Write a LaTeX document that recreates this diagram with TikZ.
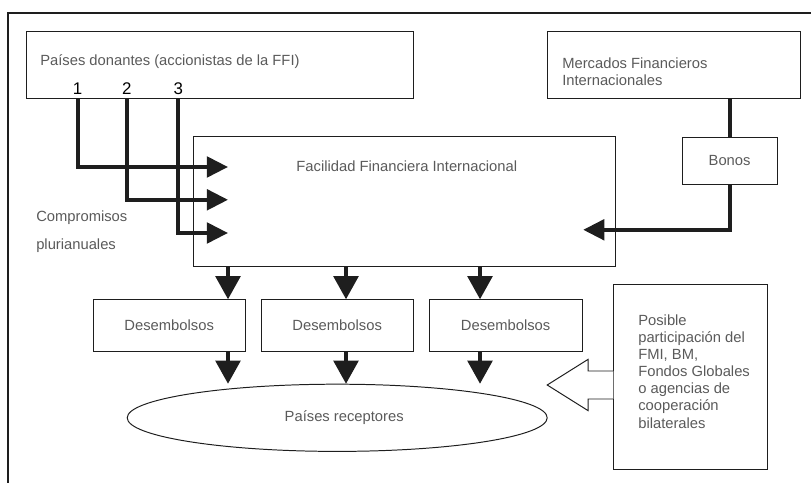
\documentclass[tikz,border=0pt]{standalone}
\usepackage{fontspec}
\setmainfont{Liberation Sans}
\usetikzlibrary{arrows.meta,shapes.geometric}

\definecolor{txtgray}{RGB}{90,90,90}
\definecolor{inkblack}{RGB}{30,30,30}

\tikzset{
  box/.style={draw=inkblack,line width=0.7pt,inner sep=0pt},
  lbl/.style={text=txtgray,inner sep=0pt,font=\fontsize{10.5}{12.2}\selectfont,align=left},
  num/.style={text=black,inner sep=0pt,font=\fontsize{12}{14}\selectfont},
  flow/.style={draw=inkblack,line width=2.8pt,-{Triangle[length=15pt,width=14.5pt]}},
  downflow/.style={draw=inkblack,line width=2.8pt,-{Triangle[length=16.5pt,width=17.5pt]}},
  bar/.style={draw=inkblack,line width=2.8pt}
}

\begin{document}
\begin{tikzpicture}
        \useasboundingbox (0,0) rectangle (20.275,12.075);
        \draw [line width=1.4pt,draw=inkblack] (0.2,0) -- (0.2,11.75) -- (20.275,11.75);

        \node (don) at (5.49,10.44) [box,minimum width=9.68cm,minimum height=1.68cm]{};
        \node (dontext) at (1.0,10.53) [lbl,anchor=west]{Países donantes (accionistas de la FFI)};
        \node (n1) at (1.94,9.85) [num]{1};
        \node (n2) at (3.17,9.85) [num]{2};
        \node (n3) at (4.46,9.85) [num]{3};

        \node (mer) at (16.84,10.44) [box,minimum width=6.33cm,minimum height=1.68cm]{};
        \node (mertext) at (14.05,10.29) [lbl,anchor=west]{Mercados Financieros\\Internacionales};

        \node (ffi) at (10.11,7.03) [box,minimum width=10.53cm,minimum height=3.25cm]{};
        \node (ffitext) at (10.17,7.93) [lbl]{Facilidad Financiera Internacional};

        \node (bon) at (18.24,8.06) [box,minimum width=2.38cm,minimum height=1.18cm,lbl]{Bonos};

        \node (comp) at (0.9,6.28) [lbl,anchor=west,font=\fontsize{10.5}{19.8}\selectfont]{Compromisos\\plurianuales};

        \node (des1) at (4.23,3.94) [box,minimum width=3.8cm,minimum height=1.28cm,lbl]{Desembolsos};
        \node (des2) at (8.43,3.94) [box,minimum width=3.8cm,minimum height=1.28cm,lbl]{Desembolsos};
        \node (des3) at (12.64,3.94) [box,minimum width=3.83cm,minimum height=1.28cm,lbl]{Desembolsos};

        \node (rec) at (8.43,1.63) [ellipse,box,minimum width=10.5cm,minimum height=1.68cm,lbl]{\hspace{0.35cm}Países receptores};

        \node (pos) at (17.26,2.66) [box,minimum width=3.83cm,minimum height=4.63cm]{};
        \node (postext) at (15.95,2.79) [lbl,anchor=west]{Posible\\participación del\\FMI, BM,\\Fondos Globales\\o agencias de\\cooperación\\bilaterales};

        % compromisos de los donantes
        \coordinate (in1) at (5.7,7.9);
        \coordinate (in2) at (5.7,7.08);
        \coordinate (in3) at (5.7,6.25);
        \draw [flow](n1 |- don.south) |- (in1);
        \draw [flow](n2 |- don.south) |- (in2);
        \draw [flow](n3 |- don.south) |- (in3);

        % bonos
        \coordinate (in4) at (14.58,6.33);
        \draw [bar](mer.south -| bon.north) -- (bon.north);
        \draw [flow](bon.south) |- (in4);

        \draw [downflow](ffi.south -| 5.7,0) -- (des1.north -| 5.7,0);
        \draw [downflow](ffi.south -| 8.65,0) -- (des2.north -| 8.65,0);
        \draw [downflow](ffi.south -| 12.0,0) -- (des3.north -| 12.0,0);

        \draw [downflow](des1.south -| 5.7,0) -- (5.7,2.48);
        \draw [downflow](des2.south -| 8.65,0) -- (8.65,2.48);
        \draw [downflow](des3.south -| 12.0,0) -- (12.0,2.48);

        % flecha hueca
        \draw [box,fill=white](pos.west |- 0,2.8) -- (14.7,2.8) -- (14.7,3.09) -- (13.68,2.45)
            -- (14.7,1.81) -- (14.7,2.1) -- (pos.west |- 0,2.1);

    \end{tikzpicture}
\end{document}
